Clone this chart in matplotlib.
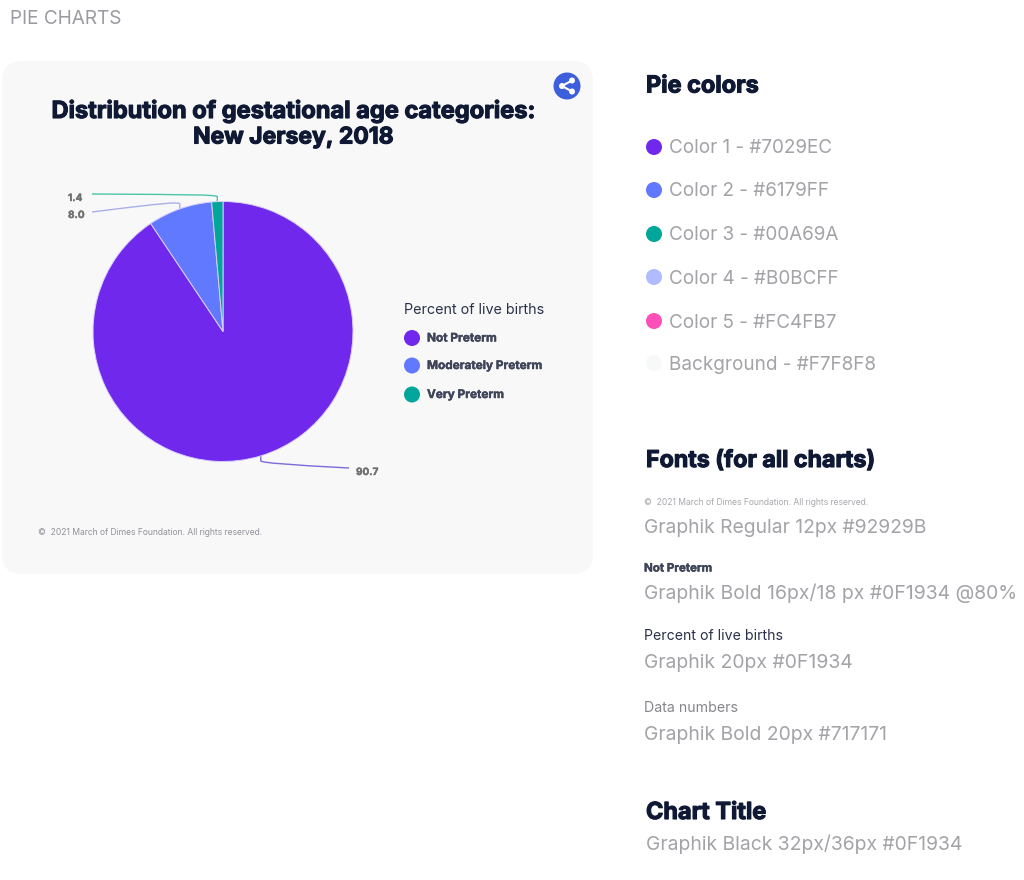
import numpy as np
import matplotlib
matplotlib.use("Agg")
import matplotlib.pyplot as plt
import matplotlib.patheffects as pe
from matplotlib.patches import FancyBboxPatch, Circle
from matplotlib.path import Path
from matplotlib.patches import PathPatch

categories = ["Not Preterm", "Moderately Preterm", "Very Preterm"]
values = [90.7, 8.0, 1.4]
value_labels = ["90.7", "8.0", "1.4"]
pie_colors = ["#7029EC", "#6179FF", "#00A69A"]
title_lines = ["Distribution of gestational age categories:", "New Jersey, 2018"]
swatch_names = ["Color 1 - #7029EC", "Color 2 - #6179FF", "Color 3 - #00A69A",
                "Color 4 - #B0BCFF", "Color 5 - #FC4FB7", "Background - #F7F8F8"]
swatch_colors = ["#7029EC", "#6179FF", "#00A69A", "#B0BCFF", "#FC4FB7", "#F7F8F8"]

BODY = "Inter"
INK = "#0F1934"
GREY = "#A3A3A8"

fig = plt.figure(figsize=(10.24, 8.8), dpi=100, facecolor="white")
W, H = 1024, 880
bg = fig.add_axes([0, 0, 1, 1])
bg.set_xlim(0, W); bg.set_ylim(H, 0); bg.axis("off")

bg.add_patch(FancyBboxPatch((22, 81), 551, 473, boxstyle="round,pad=20,rounding_size=20",
                            fc="#F8F8F9", ec="none", zorder=1))

def T(x, y, s, size, color, weight="normal", ha="left", stroke=0, **kw):
    t = bg.text(x, y, s, fontsize=size, color=color, fontweight=weight, family=BODY,
                ha=ha, va="center", zorder=5, **kw)
    if stroke:
        t.set_path_effects([pe.withStroke(linewidth=stroke, foreground=color)])
    return t

T(10, 19.5, "PIE CHARTS", 13.7, "#9A9AA0")

T(293, 111.5, title_lines[0], 17.0, INK, "bold", ha="center", stroke=0.8)
T(293, 137.5, title_lines[1], 16.5, INK, "bold", ha="center", stroke=0.8)

# share icon
bg.add_patch(Circle((567, 86), 13.5, fc="#3E5FDC", ec="none", zorder=5))
nodes = [(572, 80.5), (562, 86), (572, 91.5)]
bg.plot([nodes[0][0], nodes[1][0], nodes[2][0]], [nodes[0][1], nodes[1][1], nodes[2][1]],
        color="white", lw=1.5, zorder=6)
for n in nodes:
    bg.add_patch(Circle(n, 3, fc="white", ec="none", zorder=6))

# pie
cx, cy, R = 223, 331.5, 130
pax = fig.add_axes([(cx - R) / W, 1 - (cy + R) / H, 2 * R / W, 2 * R / H])
pax.pie(values, colors=pie_colors, startangle=90, counterclock=False, radius=1,
        wedgeprops=dict(edgecolor="#D8CFFA", linewidth=0.7))
pax.set_xlim(-1, 1); pax.set_ylim(-1, 1); pax.set_aspect("equal"); pax.axis("off")
pax.patch.set_alpha(0)

# leader lines anchored at each slice's mid-angle
total = sum(values)
mid = np.cumsum(values) - np.array(values) / 2
def anchor(v):
    a = 2 * np.pi * v / total
    return cx + R * np.sin(a), cy - R * np.cos(a)

label_pos = [(356, 472), (68, 215), (68, 198)]
line_end = [(349, 468), (92, 212), (92, 194)]
line_color = ["#7B6BD8", "#A9B0E8", "#4CC4A8"]
for i in range(3):
    ax_, ay_ = anchor(mid[i])
    ex, ey = line_end[i]
    kx, ky = ax_, ay_ + (5 if i == 0 else -5)
    if i == 0:
        c1 = (kx + 1, ky + 2); c2 = (kx + 30, ky + 4)
    else:
        c1 = (kx - 1, ky - 2); c2 = (kx - 30, ky - 2) if i == 2 else (kx - 12, ky - 1.5)
    verts = [(ax_, ay_), (kx, ky), c1, c2, (ex, ey)]
    codes = [Path.MOVETO, Path.LINETO, Path.CURVE4, Path.CURVE4, Path.CURVE4]
    bg.add_patch(PathPatch(Path(verts, codes), fc="none", ec=line_color[i], lw=1.0, zorder=4))
    T(label_pos[i][0], label_pos[i][1], value_labels[i], 7.2, "#717171", "bold", stroke=0.3)

# legend
T(404, 309.5, "Percent of live births", 10.3, "#2A3249")
for name, col, y in zip(categories, pie_colors, [338, 365.5, 394.5]):
    bg.add_patch(Circle((412, y), 8, fc=col, ec="none", zorder=5))
    T(427, y + 0.5, name, 8.5, "#3F4559", "bold", stroke=0.3)

T(38, 532.5, "©  2021 March of Dimes Foundation. All rights reserved.", 6.15, "#92929B")

# right column
T(646, 86.5, "Pie colors", 16.9, INK, "bold", stroke=0.8)
for name, col, y in zip(swatch_names, swatch_colors, [147, 190, 234, 277, 321, 363]):
    bg.add_patch(Circle((654, y), 8, fc=col, ec="none", zorder=5))
    T(669, y + 0.5 + (1.5 if y > 240 else 0.5), name, 13.6, GREY)

T(646, 461, "Fonts (for all charts)", 16.7, INK, "bold", stroke=0.8)
T(644, 502.5, "©  2021 March of Dimes Foundation. All rights reserved.", 6.15, "#A8A8AE")
T(644, 528, "Graphik Regular 12px #92929B", 13.85, GREY)
T(644, 568.5, "Not Preterm", 8.3, "#3F4559", "bold", stroke=0.3)
T(644, 593.5, "Graphik Bold 16px/18 px #0F1934 @80%", 13.95, GREY)
T(644, 635.5, "Percent of live births", 10.2, "#2A3249")
T(644, 662.5, "Graphik 20px #0F1934", 13.95, GREY)
T(644, 707.5, "Data numbers", 10.2, "#85858B")
T(644, 735.5, "Graphik Bold 20px #717171", 13.9, GREY)
T(646, 813, "Chart Title", 16.9, INK, "bold", stroke=0.8)
T(646, 844.5, "Graphik Black 32px/36px #0F1934", 13.9, GREY)

fig.savefig("out.png", dpi=100, facecolor="white")
